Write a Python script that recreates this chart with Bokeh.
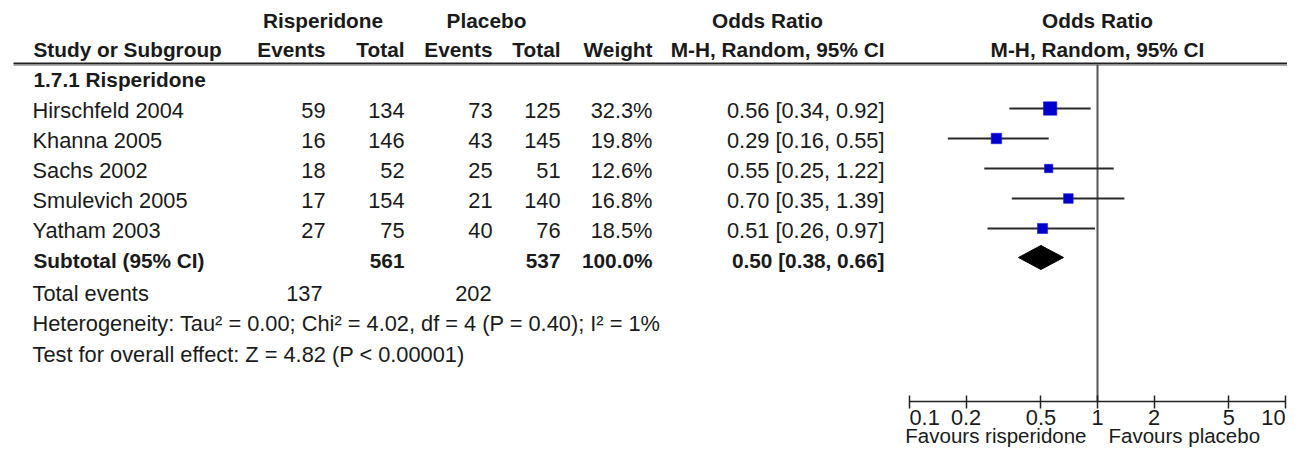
import math
from bokeh.plotting import figure
from bokeh.models import Range1d, LogScale, LogAxis, FixedTicker, ColumnDataSource
from bokeh.core.properties import value
from bokeh.embed import file_html
from bokeh.resources import INLINE

# ---------------- data ----------------
group_title = "1.7.1 Risperidone"
studies = ["Hirschfeld 2004", "Khanna 2005", "Sachs 2002", "Smulevich 2005", "Yatham 2003"]
risp_events = [59, 16, 18, 17, 27]
risp_total = [134, 146, 52, 154, 75]
plac_events = [73, 43, 25, 21, 40]
plac_total = [125, 145, 51, 140, 76]
weights = [32.3, 19.8, 12.6, 16.8, 18.5]
or_est = [0.56, 0.29, 0.55, 0.70, 0.51]
ci_low = [0.34, 0.16, 0.25, 0.35, 0.26]
ci_high = [0.92, 0.55, 1.22, 1.39, 0.97]

sub_label = "Subtotal (95% CI)"
sub_risp_total = 561
sub_plac_total = 537
sub_weight = 100.0
sub_or = 0.50
sub_low = 0.38
sub_high = 0.66
total_events_risp = 137
total_events_plac = 202
heterogeneity = "Heterogeneity: Tau\u00b2 = 0.00; Chi\u00b2 = 4.02, df = 4 (P = 0.40); I\u00b2 = 1%"
overall = "Test for overall effect: Z = 4.82 (P < 0.00001)"
null_value = 1
ticks = [0.1, 0.2, 0.5, 1, 2, 5, 10]
tick_labels = ["0.1", "0.2", "0.5", "1", "2", "5", "10"]
favours_left = "Favours risperidone"
favours_right = "Favours placebo"

# ---------------- layout ----------------
W, H = 1287, 449
X01, X10 = 909.0, 1285.0          # pixel position of 0.1 and 10 on the forest axis
DEC = (X10 - X01) / 2.0
AXIS_Y = 401
TXT = "#1a1a1a"
FONT = value("Liberation Sans")
REG = "21.8px"
BOLD = "20.8px"

p = figure(width=W, height=H, output_backend="svg", toolbar_location=None,
           x_range=Range1d(0, W), y_range=Range1d(H, 0),
           x_axis_location=None, y_axis_location=None, min_border=0,
           outline_line_color=None, background_fill_color="white")
p.grid.visible = False

lo = 10 ** (-1 - X01 / DEC)
hi = 10 ** (-1 + (W - X01) / DEC)
p.extra_x_ranges = {"or": Range1d(lo, hi)}
p.extra_x_scales = {"or": LogScale()}


def txt(xs, ys, texts, align="left", bold=False, size=None, xr="default", x_offset=0):
    n = len(texts)
    if not isinstance(xs, list):
        xs = [xs] * n
    if not isinstance(ys, list):
        ys = [ys] * n
    p.text(x=xs, y=ys, text=texts, text_align=align, text_baseline="middle",
           text_font=FONT, text_font_style="bold" if bold else "normal",
           text_font_size=size or (BOLD if bold else REG), text_color=TXT,
           x_range_name=xr, x_offset=x_offset)


# header
HDR1, HDR2 = 20, 49
txt(322.5, HDR1, ["Risperidone"], "center", True)
txt(486, HDR1, ["Placebo"], "center", True)
txt(767, HDR1, ["Odds Ratio"], "center", True)
txt(null_value, HDR1, ["Odds Ratio"], "center", True, xr="or")
txt(33, HDR2, ["Study or Subgroup"], "left", True)
txt(325, HDR2, ["Events"], "right", True)
txt(404, HDR2, ["Total"], "right", True)
txt(492, HDR2, ["Events"], "right", True)
txt(560, HDR2, ["Total"], "right", True)
txt(652, HDR2, ["Weight"], "right", True)
txt(884, HDR2, ["M-H, Random, 95% CI"], "right", True)
txt(null_value, HDR2, ["M-H, Random, 95% CI"], "center", True, xr="or")

p.segment(x0=[13], x1=[W], y0=[63], y1=[63], line_color="#222222", line_width=2)
p.segment(x0=[13], x1=[W], y0=[64.8], y1=[64.8], line_color="#9a9a9a", line_width=1)

txt(33, 79, [group_title], "left", True)

# study rows
n = len(studies)
MARK_Y = [108 + 30 * i for i in range(n)]
TEXT_Y = [y + 2 for y in MARK_Y]
txt(32, TEXT_Y, studies, "left")
txt(325, TEXT_Y, [str(v) for v in risp_events], "right")
txt(404, TEXT_Y, [str(v) for v in risp_total], "right")
txt(492, TEXT_Y, [str(v) for v in plac_events], "right")
txt(560, TEXT_Y, [str(v) for v in plac_total], "right")
txt(652, TEXT_Y, ["%.1f%%" % w for w in weights], "right")
txt(884, TEXT_Y, ["%.2f [%.2f, %.2f]" % (e, a, b) for e, a, b in zip(or_est, ci_low, ci_high)], "right")

# subtotal row
SUB_MARK_Y = 257
SUB_Y = 260
txt(33, SUB_Y, [sub_label], "left", True)
txt(404, SUB_Y, [str(sub_risp_total)], "right", True)
txt(560, SUB_Y, [str(sub_plac_total)], "right", True)
txt(652, SUB_Y, ["%.1f%%" % sub_weight], "right", True)
txt(884, SUB_Y, ["%.2f [%.2f, %.2f]" % (sub_or, sub_low, sub_high)], "right", True)

txt(32, 293, ["Total events"], "left")
txt(322, 293, [str(total_events_risp)], "right")
txt(491, 293, [str(total_events_plac)], "right")
txt(32, 323, [heterogeneity], "left")
txt(32, 354, [overall], "left")

# forest plot
p.segment(x0=[null_value], x1=[null_value], y0=[64], y1=[AXIS_Y], x_range_name="or",
          line_color="#555555", line_width=2)

src = ColumnDataSource(dict(y=MARK_Y, est=or_est, lo=ci_low, hi=ci_high,
                            size=[2.35 * math.sqrt(w) for w in weights]))
p.segment(x0="lo", x1="hi", y0="y", y1="y", source=src, x_range_name="or",
          line_color="#2a2a2a", line_width=2)
p.scatter(x="est", y="y", size="size", marker="square", source=src, x_range_name="or",
          fill_color="#0000CC", line_color="#1a1ae0", line_width=0.6)

DH = 12
p.patch(x=[sub_low, sub_or, sub_high, sub_or],
        y=[SUB_MARK_Y, SUB_MARK_Y - DH, SUB_MARK_Y, SUB_MARK_Y + DH],
        x_range_name="or", fill_color="black", line_color="black", line_width=1)

ax = LogAxis(x_range_name="or", ticker=FixedTicker(ticks=ticks), fixed_location=AXIS_Y,
             bounds=(ticks[0], ticks[-1]), major_tick_in=6, major_tick_out=7,
             minor_tick_line_color=None, axis_line_color="#222222", axis_line_width=1.5,
             major_tick_line_color="#222222", major_tick_line_width=1.5,
             major_label_text_color=None)
p.add_layout(ax, "below")

TICK_Y = 417
txt(ticks[:1], TICK_Y, tick_labels[:1], "left", xr="or")
txt(ticks[1:-1], TICK_Y, tick_labels[1:-1], "center", xr="or")
txt(ticks[-1:], TICK_Y, tick_labels[-1:], "right", xr="or")

FAV_Y = 435
FAV_SIZE = "20.5px"
txt(null_value, FAV_Y, [favours_left], "right", size=FAV_SIZE, xr="or", x_offset=-11)
txt(null_value, FAV_Y, [favours_right], "left", size=FAV_SIZE, xr="or", x_offset=11)

open("out.html", "w").write(file_html(p, INLINE, "Forest plot"))
